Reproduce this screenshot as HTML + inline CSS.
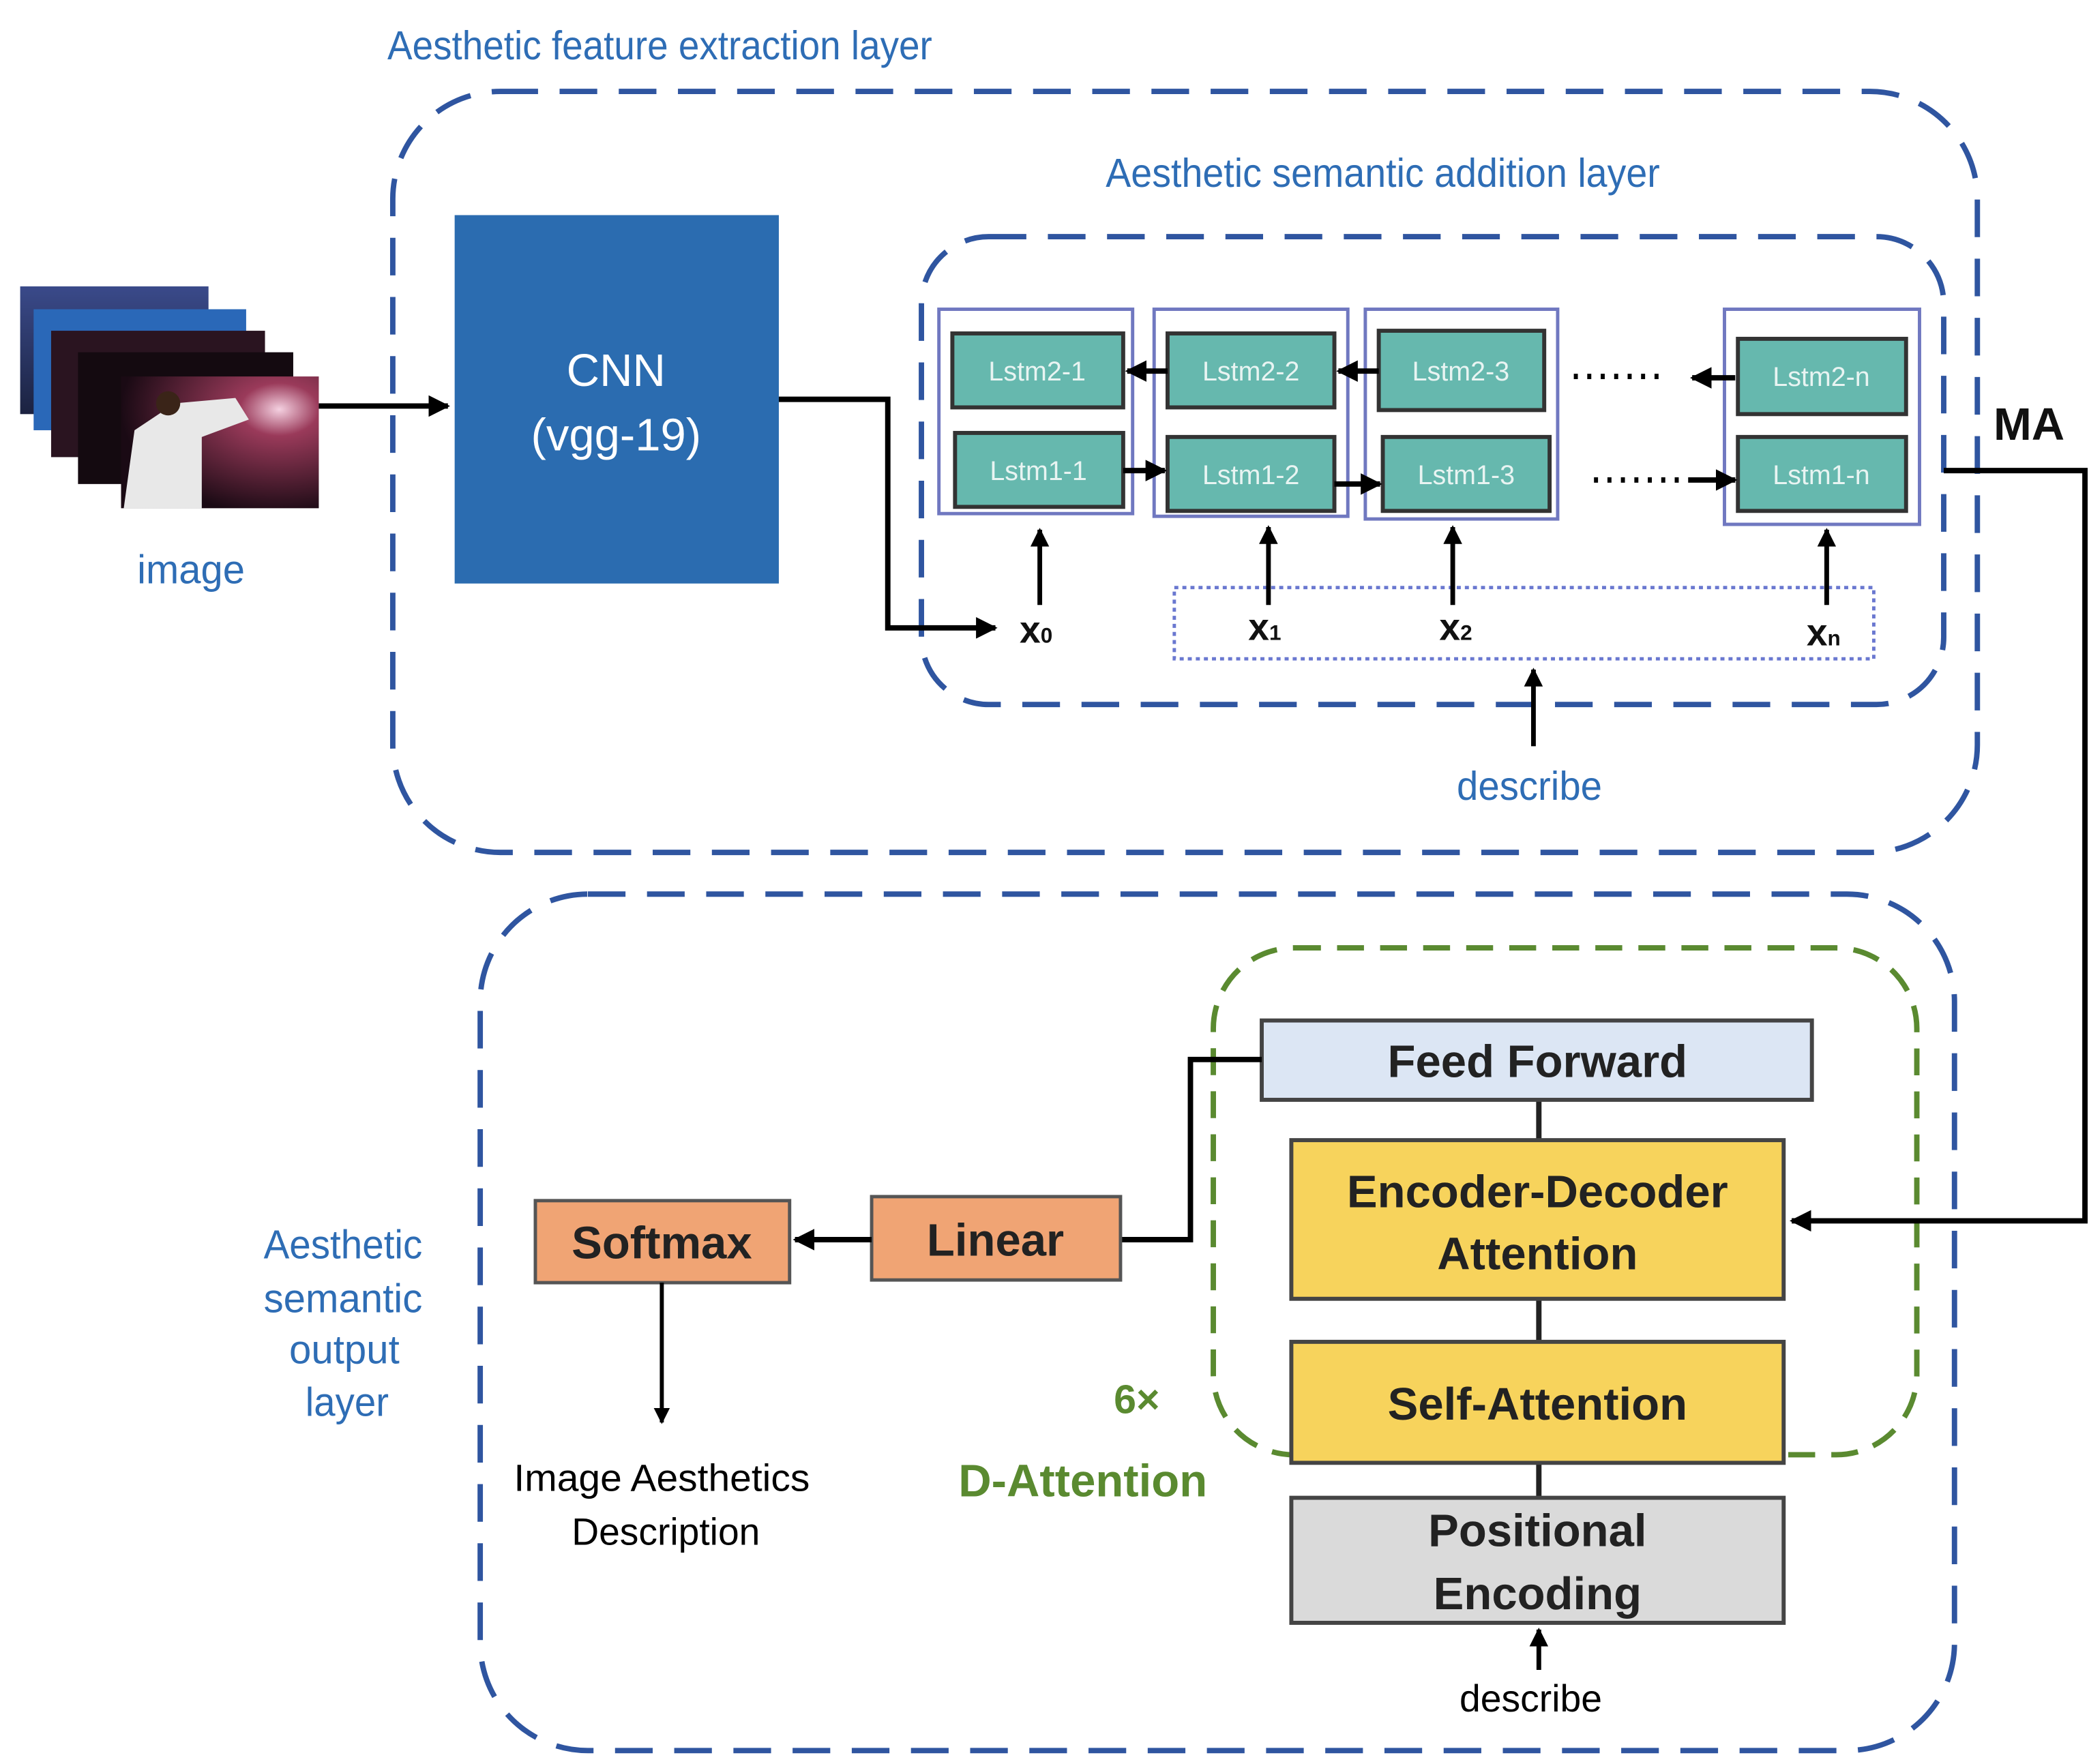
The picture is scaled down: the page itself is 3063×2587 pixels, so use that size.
<!DOCTYPE html>
<html><head><meta charset="utf-8"><style>
html,body{margin:0;padding:0;background:#fff}
svg{display:block}
text{font-family:"Liberation Sans",sans-serif}
</style></head><body>
<svg width="3063" height="2587" viewBox="0 0 1553 1312" preserveAspectRatio="none" xmlns="http://www.w3.org/2000/svg">
<defs>
<marker id="ah" viewBox="0 0 10 10" refX="9" refY="5" markerWidth="4" markerHeight="4" orient="auto" markerUnits="strokeWidth"><path d="M0,0 L10,5 L0,10 z" fill="#000"/></marker>
<linearGradient id="sky" x1="0" y1="0" x2="0" y2="1"><stop offset="0" stop-color="#3a4a8a"/><stop offset="1" stop-color="#1b2240"/></linearGradient>
<radialGradient id="ph" cx="0.8" cy="0.25" r="0.8"><stop offset="0" stop-color="#f4d0e0"/><stop offset="0.25" stop-color="#9a3a5a"/><stop offset="1" stop-color="#1a0a14"/></radialGradient>
</defs>
<rect width="1553" height="1312" fill="#fff"/>

<!-- titles -->
<text x="288" y="44" font-size="30" fill="#2e6db5" textLength="405" lengthAdjust="spacingAndGlyphs">Aesthetic feature extraction layer</text>
<text x="822" y="139" font-size="30" fill="#2e6db5" textLength="412" lengthAdjust="spacingAndGlyphs">Aesthetic semantic addition layer</text>

<!-- dashed containers -->
<rect x="292" y="68" width="1178" height="566" rx="80" fill="none" stroke="#2f55a0" stroke-width="4" stroke-dasharray="28 16"/>
<rect x="685" y="176" width="760" height="348" rx="50" fill="none" stroke="#2f55a0" stroke-width="4" stroke-dasharray="28 16"/>
<rect x="357" y="665" width="1096" height="637" rx="80" fill="none" stroke="#2f55a0" stroke-width="4" stroke-dasharray="28 16"/>
<rect x="902" y="705" width="523" height="377" rx="60" fill="none" stroke="#5a8a30" stroke-width="4" stroke-dasharray="20 12"/>

<!-- image stack -->
<rect x="15" y="213" width="140" height="95" fill="url(#sky)"/>
<rect x="25" y="230" width="158" height="90" fill="#2a68b8"/>
<rect x="38" y="246" width="159" height="94" fill="#2a1420"/>
<rect x="58" y="262" width="160" height="98" fill="#140a10"/>
<rect x="90" y="280" width="147" height="98" fill="url(#ph)"/>
<path d="M92,378 L100,320 L130,300 L175,296 L185,312 L150,325 L150,378 z" fill="#e8e8e8"/>
<circle cx="125" cy="300" r="9" fill="#3a2418"/>
<text x="142" y="434" font-size="30" fill="#2e6db5" text-anchor="middle" textLength="80" lengthAdjust="spacingAndGlyphs">image</text>
<line x1="237" y1="302" x2="333" y2="302" stroke="#000" stroke-width="4" marker-end="url(#ah)"/>

<!-- CNN -->
<rect x="338" y="160" width="241" height="274" fill="#2b6cb0"/>
<text x="458" y="287" font-size="34" fill="#fff" text-anchor="middle">CNN</text>
<text x="458" y="335" font-size="34" fill="#fff" text-anchor="middle">(vgg-19)</text>
<polyline points="579,297 660,297 660,467 740,467" fill="none" stroke="#000" stroke-width="4" marker-end="url(#ah)"/>

<!-- group rects -->
<g fill="none" stroke="#7078c0" stroke-width="2.5">
<rect x="698" y="230" width="144" height="152"/>
<rect x="858" y="230" width="144" height="154"/>
<rect x="1015" y="230" width="143" height="156"/>
<rect x="1282" y="230" width="145" height="160"/>
</g>

<!-- LSTM cells -->
<g fill="#66b8ae" stroke="#333" stroke-width="3">
<rect x="708" y="248" width="127" height="55"/>
<rect x="710" y="322" width="125" height="55"/>
<rect x="868" y="248" width="124" height="55"/>
<rect x="868" y="325" width="124" height="55"/>
<rect x="1025" y="246" width="123" height="59"/>
<rect x="1028" y="325" width="124" height="55"/>
<rect x="1292" y="252" width="125" height="56"/>
<rect x="1292" y="325" width="125" height="55"/>
</g>
<g font-size="20" fill="#e8f4f2" text-anchor="middle">
<text x="771" y="283">Lstm2-1</text>
<text x="772" y="357">Lstm1-1</text>
<text x="930" y="283">Lstm2-2</text>
<text x="930" y="360">Lstm1-2</text>
<text x="1086" y="283">Lstm2-3</text>
<text x="1090" y="360">Lstm1-3</text>
<text x="1354" y="287">Lstm2-n</text>
<text x="1354" y="360">Lstm1-n</text>
</g>
<g stroke="#000" stroke-width="4">
<line x1="868" y1="276" x2="838" y2="276" marker-end="url(#ah)"/>
<line x1="1025" y1="276" x2="995" y2="276" marker-end="url(#ah)"/>
<line x1="1290" y1="281" x2="1258" y2="281" marker-end="url(#ah)"/>
<line x1="835" y1="350" x2="866" y2="350" marker-end="url(#ah)"/>
<line x1="992" y1="360" x2="1026" y2="360" marker-end="url(#ah)"/>
<line x1="1255" y1="357" x2="1290" y2="357" marker-end="url(#ah)"/>
</g>
<g stroke="#000" stroke-width="4" stroke-dasharray="3 7">
<line x1="1170" y1="280" x2="1240" y2="280"/>
<line x1="1185" y1="357" x2="1255" y2="357"/>
</g>

<!-- dotted describe rect -->
<rect x="873" y="437" width="520" height="53" fill="none" stroke="#6a78d0" stroke-width="2.5" stroke-dasharray="3 3"/>

<!-- vertical arrows -->
<g stroke="#000" stroke-width="3.5">
<line x1="773" y1="450" x2="773" y2="394" marker-end="url(#ah)"/>
<line x1="943" y1="450" x2="943" y2="392" marker-end="url(#ah)"/>
<line x1="1080" y1="450" x2="1080" y2="392" marker-end="url(#ah)"/>
<line x1="1358" y1="450" x2="1358" y2="394" marker-end="url(#ah)"/>
<line x1="1140" y1="555" x2="1140" y2="498" marker-end="url(#ah)"/>
</g>
<g font-size="28" fill="#111" font-weight="bold">
<text x="758" y="478">x<tspan font-size="16">0</tspan></text>
<text x="928" y="476">x<tspan font-size="16">1</tspan></text>
<text x="1070" y="476">x<tspan font-size="16">2</tspan></text>
<text x="1343" y="480">x<tspan font-size="16">n</tspan></text>
</g>
<text x="1137" y="595" font-size="30" fill="#2e6db5" text-anchor="middle" textLength="108" lengthAdjust="spacingAndGlyphs">describe</text>

<!-- MA connector -->
<text x="1482" y="327" font-size="34" font-weight="bold" fill="#111">MA</text>
<polyline points="1445,350 1550,350 1550,908 1332,908" fill="none" stroke="#000" stroke-width="4" marker-end="url(#ah)"/>

<!-- decoder stack -->
<line x1="1144" y1="818" x2="1144" y2="1114" stroke="#222" stroke-width="4"/>
<rect x="938" y="759" width="409" height="59" fill="#dce6f4" stroke="#444" stroke-width="3"/>
<text x="1143" y="801" font-size="34" font-weight="bold" fill="#222" text-anchor="middle">Feed Forward</text>
<rect x="960" y="848" width="366" height="118" fill="#f7d35c" stroke="#444" stroke-width="3"/>
<text x="1143" y="898" font-size="34" font-weight="bold" fill="#222" text-anchor="middle">Encoder-Decoder</text>
<text x="1143" y="944" font-size="34" font-weight="bold" fill="#222" text-anchor="middle">Attention</text>
<rect x="960" y="998" width="366" height="90" fill="#f7d35c" stroke="#444" stroke-width="3"/>
<text x="1143" y="1056" font-size="34" font-weight="bold" fill="#222" text-anchor="middle">Self-Attention</text>
<rect x="960" y="1114" width="366" height="93" fill="#dadada" stroke="#444" stroke-width="3"/>
<text x="1143" y="1150" font-size="34" font-weight="bold" fill="#222" text-anchor="middle">Positional</text>
<text x="1143" y="1197" font-size="34" font-weight="bold" fill="#222" text-anchor="middle">Encoding</text>
<line x1="1144" y1="1242" x2="1144" y2="1212" stroke="#000" stroke-width="3.5" marker-end="url(#ah)"/>
<text x="1138" y="1273" font-size="28" fill="#000" text-anchor="middle" textLength="106" lengthAdjust="spacingAndGlyphs">describe</text>

<text x="828" y="1051" font-size="30" font-weight="bold" fill="#5a8a30">6×</text>
<text x="805" y="1113" font-size="34" font-weight="bold" fill="#5a8a30" text-anchor="middle">D-Attention</text>

<!-- linear/softmax -->
<polyline points="938,788 885,788 885,922 833,922" fill="none" stroke="#000" stroke-width="4"/>
<rect x="648" y="890" width="185" height="62" fill="#f0a474" stroke="#555" stroke-width="2.5"/>
<text x="740" y="934" font-size="34" font-weight="bold" fill="#222" text-anchor="middle">Linear</text>
<rect x="398" y="893" width="189" height="61" fill="#f0a474" stroke="#555" stroke-width="2.5"/>
<text x="492" y="936" font-size="34" font-weight="bold" fill="#222" text-anchor="middle">Softmax</text>
<line x1="648" y1="922" x2="591" y2="922" stroke="#000" stroke-width="4" marker-end="url(#ah)"/>
<line x1="492" y1="954" x2="492" y2="1058" stroke="#000" stroke-width="3" marker-end="url(#ah)"/>
<text x="492" y="1109" font-size="28" fill="#000" text-anchor="middle" textLength="220" lengthAdjust="spacingAndGlyphs">Image Aesthetics</text>
<text x="495" y="1149" font-size="28" fill="#000" text-anchor="middle" textLength="140" lengthAdjust="spacingAndGlyphs">Description</text>

<g font-size="30" fill="#2e6db5" text-anchor="middle">
<text x="255" y="936" textLength="118" lengthAdjust="spacingAndGlyphs">Aesthetic</text>
<text x="255" y="976" textLength="118" lengthAdjust="spacingAndGlyphs">semantic</text>
<text x="256" y="1014" textLength="82" lengthAdjust="spacingAndGlyphs">output</text>
<text x="258" y="1053" textLength="62" lengthAdjust="spacingAndGlyphs">layer</text>
</g>
</svg>
</body></html>
